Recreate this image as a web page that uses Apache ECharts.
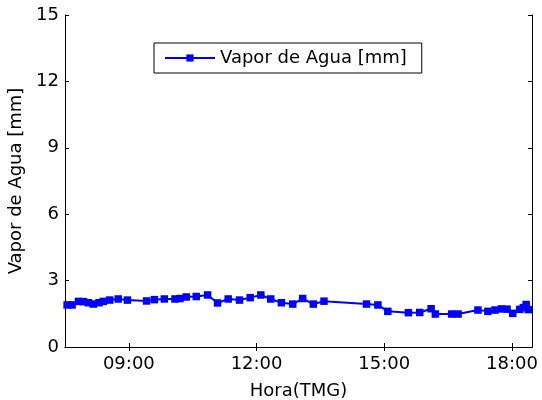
<!DOCTYPE html>
<html>
<head>
<meta charset="utf-8">
<script src="https://cdn.jsdelivr.net/npm/echarts@6/dist/echarts.min.js"></script>
<style>
  html, body { margin: 0; padding: 0; background: #fff; }
  #chart { width: 542px; height: 400px; }
</style>
</head>
<body>
<div id="chart"></div>
<script>
// Water vapour measurements over the day (GMT)
const times = [
  "07:33", "07:40", "07:49", "07:56", "08:03", "08:10", "08:18", "08:24", "08:33", "08:45",
  "08:58", "09:25", "09:36", "09:50", "10:05", "10:12", "10:21", "10:35", "10:51", "11:05",
  "11:20", "11:36", "11:51", "12:06", "12:20", "12:35", "12:51", "13:05", "13:20", "13:35",
  "14:35", "14:51", "15:05", "15:34", "15:50", "16:06", "16:12", "16:35", "16:44", "17:12",
  "17:26", "17:36", "17:45", "17:53", "18:01", "18:11", "18:16", "18:20", "18:23"
];
const vapor = [
  1.90, 1.90, 2.06, 2.05, 2.00, 1.94, 2.00, 2.06, 2.12, 2.17,
  2.12, 2.08, 2.14, 2.17, 2.17, 2.19, 2.26, 2.28, 2.35, 1.99,
  2.17, 2.12, 2.23, 2.35, 2.17, 2.00, 1.94, 2.19, 1.94, 2.07,
  1.94, 1.90, 1.61, 1.55, 1.56, 1.73, 1.49, 1.49, 1.49, 1.67,
  1.61, 1.67, 1.72, 1.71, 1.52, 1.70, 1.78, 1.92, 1.69
];
const xTicks = [9, 12, 15, 18];
const yTicks = [0, 3, 6, 9, 12, 15];
const seriesName = "Vapor de Agua [mm]";

const toHours = s => { const [h, m] = s.split(":").map(Number); return h + m / 60; };
const fmtHour = v => String(Math.round(v)).padStart(2, "0") + ":00";
const points = times.map((t, i) => [toHours(t), vapor[i]]);

const FONT = "DejaVu Sans";
const axisLine = { show: true, lineStyle: { color: "#000", width: 1 } };
const tick = { show: true, inside: true, length: 4, lineStyle: { color: "#000" } };

const chart = echarts.init(document.getElementById("chart"), null, { renderer: "canvas" });
chart.setOption({
  animation: false,
  backgroundColor: "#fff",
  grid: { left: 65, right: 10, top: 15, bottom: 53, containLabel: false, outerBoundsMode: "none" },
  legend: {
    data: [seriesName],
    left: 154, top: 43,
    padding: [6, 15, 6, 10],
    borderColor: "#000", borderWidth: 1,
    backgroundColor: "#fff",
    itemWidth: 50, itemHeight: 9,
    textStyle: { fontFamily: FONT, fontSize: 18, color: "#000" }
  },
  xAxis: [
    {
      type: "value", position: "bottom", min: 7.5, max: 18.47,
      axisLine, splitLine: { show: false },
      axisTick: Object.assign({ customValues: xTicks }, tick),
      axisLabel: { customValues: xTicks, formatter: fmtHour, fontFamily: FONT, fontSize: 18, color: "#000", margin: 8 },
      name: "Hora(TMG)", nameLocation: "middle", nameGap: 35,
      nameTextStyle: { fontFamily: FONT, fontSize: 18, color: "#000" }
    },
    {
      type: "value", position: "top", min: 7.5, max: 18.47,
      axisLine, splitLine: { show: false },
      axisTick: Object.assign({ customValues: xTicks }, tick),
      axisLabel: { show: false }
    }
  ],
  yAxis: [
    {
      type: "value", position: "left", min: 0, max: 15, interval: 3,
      axisLine, splitLine: { show: false }, axisTick: tick,
      axisLabel: { customValues: yTicks, fontFamily: FONT, fontSize: 18, color: "#000", margin: 6 },
      name: seriesName, nameLocation: "middle", nameGap: 38,
      nameTextStyle: { fontFamily: FONT, fontSize: 18, color: "#000" }
    },
    {
      type: "value", position: "right", min: 0, max: 15, interval: 3,
      axisLine, splitLine: { show: false }, axisTick: tick,
      axisLabel: { show: false }
    }
  ],
  series: [{
    name: seriesName,
    type: "line",
    data: points,
    symbol: "rect",
    symbolSize: 7.5,
    showAllSymbol: true,
    lineStyle: { color: "#0000ff", width: 2 },
    itemStyle: { color: "#0000ff" }
  }]
});
</script>
</body>
</html>
